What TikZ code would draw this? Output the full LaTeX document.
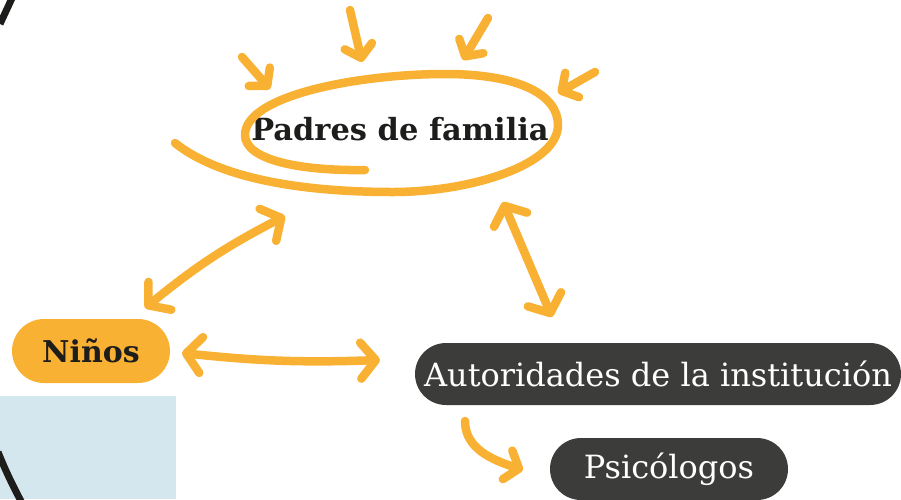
\documentclass[tikz,border=0pt]{standalone}
\usepackage{fontspec}
\setmainfont{DejaVu Serif}
\usetikzlibrary{arrows.meta,shapes.misc,shapes.geometric}
\definecolor{naranja}{HTML}{F8B133}
\definecolor{gris}{HTML}{3C3C3B}
\definecolor{tinta}{HTML}{1D1D1B}
\definecolor{celeste}{HTML}{D5E7EE}

\begin{document}
\begin{tikzpicture}[x=1pt,y=-1pt]
	\tikzstyle{every node}=[inner sep=0pt]
	\tikzstyle{trazo}=[naranja, line width=8.5pt, line cap=round, line join=round]
	\tikzstyle{rayo}=[trazo, -{Straight Barb[length=12pt,width=28pt,round]}]
	\tikzstyle{doble}=[trazo, {Straight Barb[length=15pt,width=36pt,round]}-{Straight Barb[length=15pt,width=36pt,round]}]
	\tikzstyle{caja}=[rounded rectangle, minimum height=62pt, text=white, fill=gris, font=\fontsize{32}{38}\selectfont]
	
	\useasboundingbox (0,0) rectangle (901,499);
	
	%% fondo
	\fill [celeste] (0,396) rectangle (176,499);
	\draw [line width=7pt, tinta] (0,24) -- (13,-4);
	\draw [line width=7pt, tinta] (-2,452) .. controls (6,472) and (14,488) .. (22,503);
	
	%% nodos
	\node (padres) at (400,129) [tinta, font=\bfseries\fontsize{30.5}{36}\selectfont] {Padres de familia};
	\node (ninos) at (91,351) [rounded rectangle, fill=naranja, minimum width=158pt, minimum height=64pt, text=tinta, font=\bfseries\fontsize{30}{34}\selectfont] {Niños};
	\node (autoridades) at (658,374) [caja, minimum width=486pt] {Autoridades de la institución};
	\node (psicologos) at (669,469) [caja, minimum width=238pt] {Psicólogos};
	
	%% espiral
	\draw [trazo] (365,170) .. controls (300,171) and (245,160) .. (245,135)
		.. controls (245,95) and (360,74) .. (445,74)
		.. controls (520,74) and (558,95) .. (558,125)
		.. controls (558,165) and (470,192) .. (393,192)
		.. controls (290,192) and (215,175) .. (175,143);
	
	%% rayos
	\foreach \sx/\sy/\ex/\ey in {-158/-72/-130/-40, -50/-119/-38/-67, 88/-111/63/-69, 195/-57/158/-36}
		\draw [rayo] ([shift={(\sx,\sy)}]padres.center) -- ([shift={(\ex,\ey)}]padres.center);
	
	%% conectores
	\draw [doble] ([shift={(54,-43)}]ninos.center) to[bend left=6] ([shift={(-115,87)}]padres.center);
	\draw [doble] ([shift={(103,73)}]padres.center) -- ([shift={(-106,-57)}]autoridades.center);
	\draw [doble] ([shift={(91,2)}]ninos.center) to[bend right=4] ([shift={(-278,-14)}]autoridades.center);
	\draw [trazo, -{Straight Barb[length=12pt,width=30pt,round]}] ([shift={(-193,47)}]autoridades.center) .. controls +(0,28) and +(-30,-10) .. ([shift={(-146,1)}]psicologos.center);

\end{tikzpicture}
\end{document}
